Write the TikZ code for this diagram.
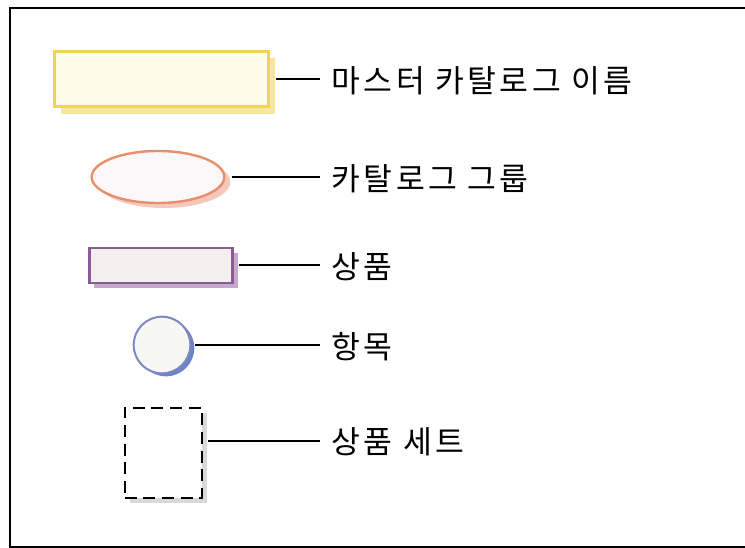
\documentclass[tikz,border=0pt]{standalone}
\usepackage{fontspec}
\newfontfamily\kor[LetterSpace=11]{Noto Sans CJK KR}
\usetikzlibrary{shapes,positioning,shapes.geometric}

\definecolor{yelfill}{HTML}{FFFCEB}
\definecolor{yeldraw}{HTML}{EFD45C}
\definecolor{yelshad}{HTML}{F6E6A0}
\definecolor{orafill}{HTML}{FCF7F8}
\definecolor{oradraw}{HTML}{E88E6A}
\definecolor{orashad}{HTML}{F4C9BB}
\definecolor{purfill}{HTML}{F5EEEF}
\definecolor{purdraw}{HTML}{8B5A96}
\definecolor{purshad}{HTML}{C6A8CC}
\definecolor{blufill}{HTML}{F7F7F5}
\definecolor{bludraw}{HTML}{7D89C0}
\definecolor{blushad}{HTML}{6D84C6}

\tikzset{
	lbl/.style={anchor=west, inner xsep=8.5pt, inner ysep=0pt, text height=23pt, text depth=3pt, font=\kor\fontsize{23.5pt}{27pt}\selectfont},
	wire/.style={line width=1.5pt, black},
	masterbox/.style={rectangle, inner sep=0pt, minimum width=160.5pt, minimum height=41.5pt, line width=2pt},
	groupoval/.style={ellipse, inner sep=0pt, minimum width=99.5pt, minimum height=39pt, line width=1.8pt},
	prodbox/.style={rectangle, inner sep=0pt, minimum width=107.5pt, minimum height=26pt, line width=1.8pt},
	itemdot/.style={circle, inner sep=0pt, minimum size=42.5pt, line width=1.5pt},
	setbox/.style={rectangle, inner sep=0pt, minimum width=57.75pt, minimum height=67.5pt, line width=1.5pt}
}

\begin{document}
\begin{tikzpicture}[x=0.75pt,y=-0.75pt]
	\useasboundingbox (0,0) rectangle (745,548);
	\draw[line width=1.5pt] (760,8) -- (10,8) -- (10,546.5) -- (760,546.5);

	% master catalog name
	\node[masterbox, fill=yelshad] (mastersh) at (168,86) {};
	\node[masterbox, fill=yelfill, draw=yeldraw] (master) at (161.5,79) {};
	\node[lbl] (masterL) at (320,79) {마스터 카탈로그 이름};
	\draw[wire] (mastersh.east |- masterL) -- (masterL.west);

	% catalog group
	\node[groupoval, fill=orashad] (groupsh) at (164,182) {};
	\node[groupoval, fill=orafill, draw=oradraw] (group) at (158,177) {};
	\node[lbl] (groupL) at (320,177) {카탈로그 그룹};
	\draw[wire] (groupsh.east |- groupL) -- (groupL.west);

	% product
	\node[prodbox, fill=purshad] (prodsh) at (166,270.5) {};
	\node[prodbox, fill=purfill, draw=purdraw] (prod) at (161,265.5) {};
	\node[lbl] (prodL) at (320,265.5) {상품};
	\draw[wire] (prodsh.east |- prodL) -- (prodL.west);

	% item
	\node[itemdot, fill=blushad] (itemsh) at (166,348) {};
	\node[itemdot, fill=blufill, draw=bludraw] (item) at (162,345) {};
	\node[lbl] (itemL) at (320,345) {항목};
	\draw[wire] (itemsh.east |- itemL) -- (itemL.west);

	% product set
	\node[setbox, fill=black!15] (setsh) at (168,457.5) {};
	\node[setbox, fill=white, draw=black, dash pattern=on 9pt off 5pt] (set) at (163,452.5) {};
	\node[lbl] (setL) at (320,440.5) {상품 세트};
	\draw[wire] (setsh.east |- setL) -- (setL.west);
\end{tikzpicture}
\end{document}
